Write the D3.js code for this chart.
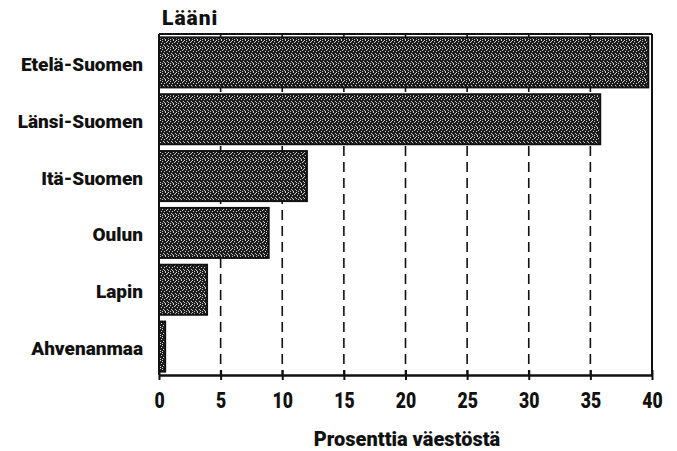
<!DOCTYPE html>
<html>
<head>
<meta charset="utf-8">
<script src="https://cdn.jsdelivr.net/npm/d3@7"></script>
<style>
  html, body { margin: 0; padding: 0; background: #fff; }
  svg { display: block; }
  text { font-family: "Roboto", "Liberation Sans", sans-serif; font-weight: 900; fill: #111; }
</style>
</head>
<body>
<svg id="chart" width="677" height="451"></svg>
<script>
const categories = ["Etelä-Suomen", "Länsi-Suomen", "Itä-Suomen", "Oulun", "Lapin", "Ahvenanmaa"];
const values = [39.7, 35.8, 12.0, 8.9, 3.9, 0.5];
const xTicks = [0, 5, 10, 15, 20, 25, 30, 35, 40];
const yTitle = "Lääni";
const xTitle = "Prosenttia väestöstä";

(function () {
const svg = d3.select("#chart");
const mLeft = 159, mRight = 652, mTop = 34, mBottom = 375;

const x = d3.scaleLinear().domain([0, 40]).range([mLeft, mRight]);
const y = d3.scaleBand().domain(categories).range([mTop, mBottom]).paddingInner(0.12).paddingOuter(0.06);

// stipple pattern
const defs = svg.append("defs");
const pat = defs.append("pattern").attr("id", "stip").attr("patternUnits", "userSpaceOnUse")
  .attr("width", 8).attr("height", 8);
pat.append("rect").attr("width", 8).attr("height", 8).attr("fill", "#1c1c1c");
const dots = [[0,0],[2,1],[5,0],[1,3],[4,3],[6,2],[3,5],[7,5],[0,6],[5,7],[2,7],[7,1],[4,6]];
pat.selectAll("rect.d").data(dots).enter().append("rect").attr("class", "d")
  .attr("x", d => d[0]).attr("y", d => d[1]).attr("width", 1).attr("height", 1).attr("fill", "#d0d0d0");

// dashed gridlines
svg.append("g").selectAll("line").data(xTicks.filter(t => t > 0 && t < 40)).enter().append("line")
  .attr("x1", d => x(d)).attr("x2", d => x(d)).attr("y1", mTop).attr("y2", mBottom)
  .attr("stroke", "#111").attr("stroke-width", 1.6).attr("stroke-dasharray", "10,6");

// bars
svg.append("g").selectAll("rect").data(categories).enter().append("rect")
  .attr("x", x(0)).attr("y", d => y(d))
  .attr("width", (d, i) => x(values[i]) - x(0)).attr("height", y.bandwidth())
  .attr("fill", "url(#stip)").attr("stroke", "#111").attr("stroke-width", 2);

// frame
svg.append("line").attr("x1", mLeft).attr("x2", mRight).attr("y1", mTop).attr("y2", mTop).attr("stroke", "#111").attr("stroke-width", 2);
svg.append("line").attr("x1", mRight).attr("x2", mRight).attr("y1", mTop).attr("y2", mBottom).attr("stroke", "#111").attr("stroke-width", 2);
svg.append("line").attr("x1", mLeft).attr("x2", mLeft).attr("y1", mTop).attr("y2", mBottom).attr("stroke", "#111").attr("stroke-width", 2);

// x axis
const xAxis = svg.append("g").attr("transform", `translate(0,${mBottom})`)
  .call(d3.axisBottom(x).tickValues(xTicks).tickSize(5).tickPadding(12).tickSizeOuter(0));
xAxis.select(".domain").attr("stroke", "#111").attr("stroke-width", 2.5);
xAxis.selectAll(".tick line").attr("stroke", "#111").attr("stroke-width", 2).attr("y1", -5).attr("y2", 5);
xAxis.selectAll(".tick text").attr("font-size", 22).attr("font-family", null).attr("fill", "#111")
  .attr("transform", "scale(0.8,1)");

// y labels
const yAxis = svg.append("g").attr("transform", `translate(${mLeft},0)`)
  .call(d3.axisLeft(y).tickSize(0).tickPadding(16));
yAxis.select(".domain").remove();
yAxis.selectAll(".tick text").attr("font-size", 19).attr("font-family", null).attr("fill", "#111").attr("dy", "0.45em");

// titles
svg.append("text").attr("x", 162).attr("y", 25).attr("font-size", 21).attr("letter-spacing", 1).text(yTitle);
svg.append("text").attr("x", 407).attr("y", 446).attr("text-anchor", "middle").attr("font-size", 20).text(xTitle);
})();
</script>
</body>
</html>
